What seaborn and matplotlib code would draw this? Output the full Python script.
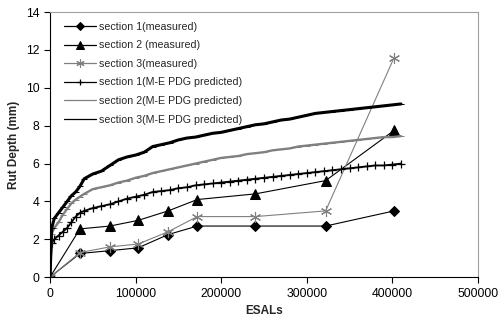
import numpy as np
import pandas as pd
import matplotlib
matplotlib.use("Agg")
import matplotlib.pyplot as plt
import seaborn as sns

# measured rut depth (mm) vs ESALs
esal_measured = [0, 35000, 70000, 103000, 138000, 172000, 240000, 322000, 402000]
s1_measured = [0, 1.25, 1.4, 1.55, 2.25, 2.7, 2.7, 2.7, 3.5]
s2_measured = [0, 2.55, 2.7, 3.0, 3.5, 4.1, 4.4, 5.1, 7.75]
s3_measured = [0, 1.3, 1.6, 1.75, 2.4, 3.2, 3.2, 3.5, 11.6]

# M-E PDG predicted curves
esal_pred = [0, 2000, 5000, 10000, 15000, 20000, 25000, 30000, 35000, 40000,
             50000, 60000, 70000, 80000, 90000, 100000, 110000, 120000, 130000,
             140000, 150000, 160000, 170000, 180000, 190000, 200000, 210000,
             220000, 230000, 240000, 250000, 260000, 270000, 280000, 290000,
             300000, 310000, 320000, 330000, 340000, 350000, 360000, 370000,
             380000, 390000, 400000, 410000]
s1_pred = [0, 1.8, 2.0, 2.2, 2.4, 2.6, 2.9, 3.2, 3.4, 3.5,
           3.65, 3.75, 3.85, 4.0, 4.15, 4.25, 4.35, 4.5, 4.55,
           4.6, 4.7, 4.75, 4.85, 4.9, 4.95, 5.0, 5.05,
           5.1, 5.15, 5.2, 5.25, 5.3, 5.35, 5.4, 5.45,
           5.5, 5.55, 5.6, 5.65, 5.7, 5.75, 5.8, 5.85,
           5.9, 5.9, 5.95, 6.0]
s2_pred = [0, 2.3, 2.6, 2.9, 3.3, 3.6, 3.9, 4.1, 4.25, 4.4,
           4.65, 4.75, 4.85, 5.0, 5.1, 5.25, 5.35, 5.5, 5.6,
           5.7, 5.8, 5.9, 6.0, 6.1, 6.2, 6.3, 6.35,
           6.4, 6.5, 6.55, 6.6, 6.7, 6.75, 6.8, 6.9,
           6.95, 7.0, 7.05, 7.1, 7.15, 7.2, 7.25, 7.3,
           7.35, 7.4, 7.4, 7.45]
s3_pred = [0, 2.6, 3.1, 3.4, 3.7, 4.0, 4.3, 4.5, 4.8, 5.2,
           5.45, 5.6, 5.9, 6.2, 6.35, 6.45, 6.6, 6.9, 7.0,
           7.1, 7.25, 7.35, 7.4, 7.5, 7.6, 7.65, 7.75,
           7.85, 7.95, 8.05, 8.1, 8.2, 8.3, 8.35, 8.45,
           8.55, 8.65, 8.7, 8.75, 8.8, 8.85, 8.9, 8.95,
           9.0, 9.05, 9.1, 9.15]

sns.set_style("white")
plt.rcParams['font.family'] = ['Liberation Sans', 'DejaVu Sans']

fig = plt.figure(figsize=(5, 3.28), dpi=100)
ax = fig.add_axes([0.10, 0.155, 0.856, 0.808])

gray = '#808080'
asterisk = (6, 2, 0)

sns.lineplot(x=esal_measured, y=s1_measured, ax=ax, color='black', lw=0.8,
             marker='D', markersize=5, markeredgecolor='black',
             label='section 1(measured)')
sns.lineplot(x=esal_measured, y=s2_measured, ax=ax, color='black', lw=0.8,
             marker='^', markersize=7, markeredgecolor='black',
             label='section 2 (measured)')
sns.lineplot(x=esal_measured, y=s3_measured, ax=ax, color=gray, lw=0.8,
             marker=asterisk, markersize=8, markeredgecolor=gray, markeredgewidth=0.8,
             label='section 3(measured)')
sns.lineplot(x=esal_pred, y=s1_pred, ax=ax, color='black', lw=1.3,
             marker='+', markersize=6, markeredgecolor='black', markeredgewidth=0.9,
             label='section 1(M-E PDG predicted)')
sns.lineplot(x=esal_pred, y=s2_pred, ax=ax, color=gray, lw=1.7,
             marker='_', markersize=4, markeredgecolor=gray,
             label='section 2(M-E PDG predicted)')
sns.lineplot(x=esal_pred, y=s3_pred, ax=ax, color='black', lw=2.2,
             marker='_', markersize=4, markeredgecolor='black',
             label='section 3(M-E PDG predicted)')

ax.set_xlim(0, 500000)
ax.set_ylim(0, 14)
ax.set_xticks(np.arange(0, 500001, 100000))
ax.set_yticks(np.arange(0, 15, 2))
ax.set_xticklabels([str(v) for v in range(0, 500001, 100000)])
ax.tick_params(axis='both', direction='out', length=4, width=0.8,
               labelsize=8.8, colors='black', bottom=True, left=True)
for s in ['left', 'bottom']:
    ax.spines[s].set_color('black')
    ax.spines[s].set_linewidth(0.8)
for s in ['top', 'right']:
    ax.spines[s].set_color('#a0a0a0')
    ax.spines[s].set_linewidth(0.8)

ax.set_xlabel('ESALs', fontsize=8.5, fontweight='bold')
ax.set_ylabel('Rut Depth (mm)', fontsize=8.5, fontweight='bold')

leg = ax.legend(loc='upper left', bbox_to_anchor=(0.01, 1.0), frameon=False,
                fontsize=7.7, handlelength=3.0, labelspacing=0.8,
                handletextpad=0.3, markerscale=0.75)
for line in leg.get_lines():
    line.set_linewidth(0.9)

fig.savefig('out.png', dpi=100)
